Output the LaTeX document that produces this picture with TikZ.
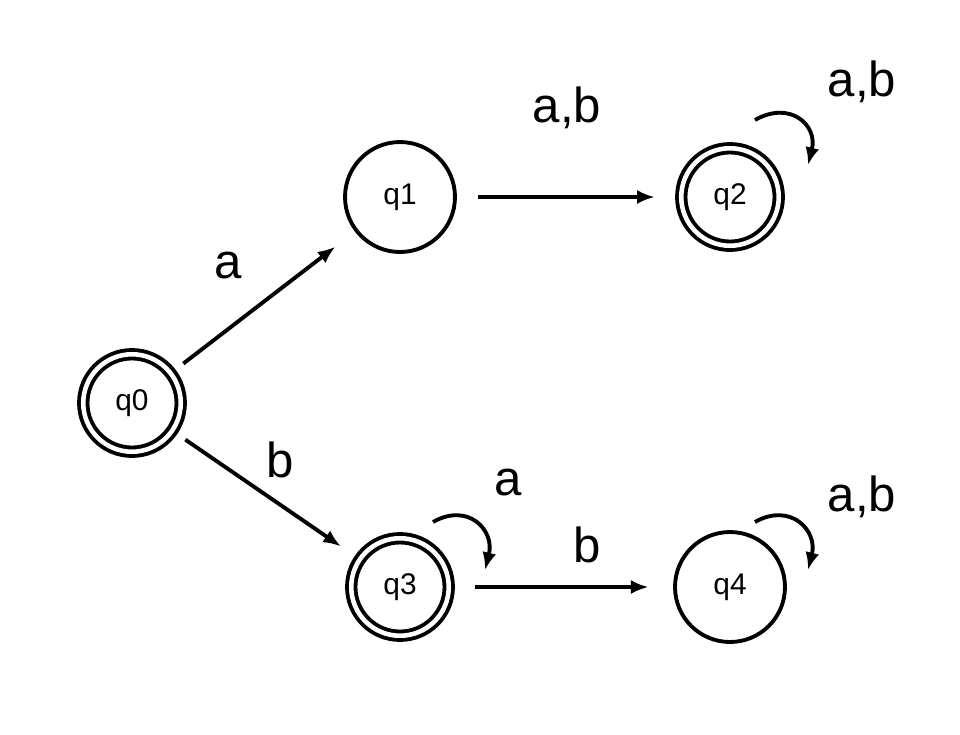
\documentclass[tikz,border=0pt]{standalone}
\usepackage{fontspec}
\setmainfont{Liberation Sans}
\usetikzlibrary{positioning,arrows.meta}
\begin{document}
\begin{tikzpicture}[x=0.02cm,y=-0.02cm]
\tikzstyle{main}=[circle, minimum size = 2.2cm, line width=2.2pt, draw=black, font=\fontsize{17}{17}\selectfont]
\tikzstyle{accept}=[main, minimum size = 1.95cm, double, double distance=2.6pt]
\tikzstyle{connect}=[-{Latex[length=10pt,width=8pt]}, line width=2.2pt]
\tikzstyle{lbl}=[font=\fontsize{28}{28}\selectfont]
  \useasboundingbox (0,0) rectangle (960,734);
  \node[accept] (q0) at (132,403) {q0};
  \node[main] (q1) at (400,197) {q1};
  \node[accept] (q2) at (730,197) {q2};
  \node[accept] (q3) at (400,587) {q3};
  \node[main] (q4) at (730,587) {q4};
  \draw[connect, shorten <=8pt, shorten >=14pt] (q0) -- (q1);
  \draw[connect, shorten <=12pt, shorten >=14pt] (q1) -- (q2);
  \draw[connect, shorten <=8pt, shorten >=12pt] (q0) -- (q3);
  \draw[connect, shorten <=14pt, shorten >=14pt] (q3) -- (q4);
  \node[lbl] (l01) at (228,265) {a};
  \node[lbl] (l12) at (567,108) {a,b};
  \node[lbl] (l03) at (280,460) {b};
  \node[lbl] (l34) at (587,545) {b};
  % self loops
  \draw[connect] (q2.center) ++(25,-77) .. controls +(35,-20) and +(10,-40) .. ++(53,45);
  \node[lbl] (l2) at (862,82) {a,b};
  \draw[connect] (q3.center) ++(33,-65) .. controls +(35,-20) and +(10,-40) .. ++(52,48);
  \node[lbl] (l3) at (508,482) {a};
  \draw[connect] (q4.center) ++(25,-65) .. controls +(35,-20) and +(10,-40) .. ++(53,48);
  \node[lbl] (l4) at (862,497) {a,b};
\end{tikzpicture}
\end{document}
